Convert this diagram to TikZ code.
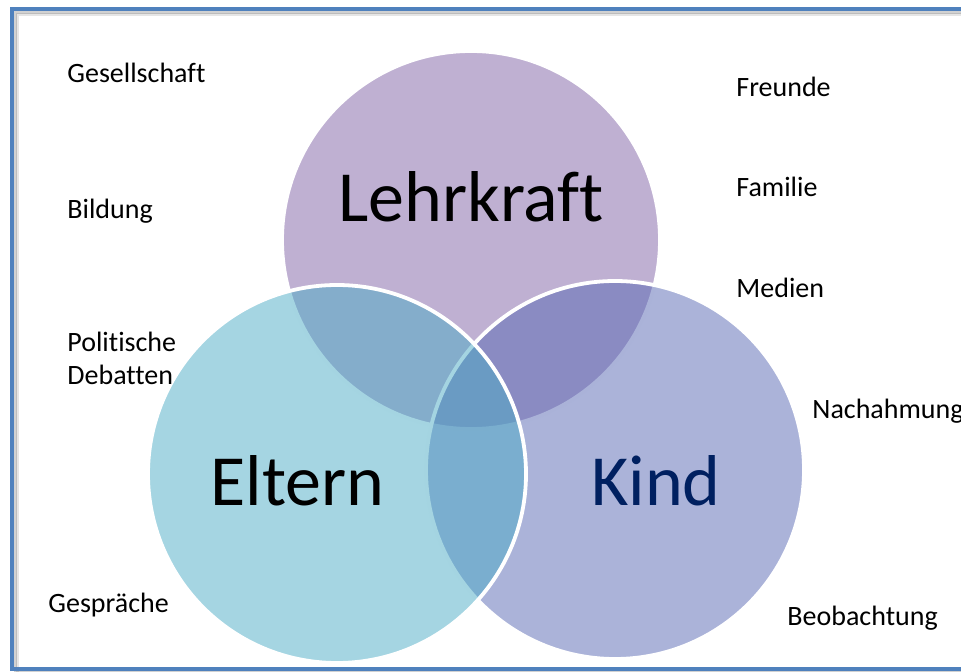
\documentclass[tikz,border=0pt]{standalone}
\usepackage{fontspec}
\setmainfont{Carlito}[Ligatures={NoCommon}]
\usepackage{tikz}
\usetikzlibrary{positioning}
\definecolor{VennLila}{HTML}{7F61A5}
\definecolor{VennBlau}{HTML}{5767B3}
\definecolor{VennTuerkis}{HTML}{4BABC5}
\definecolor{VennNavy}{HTML}{002060}
\definecolor{FrameBlue}{HTML}{4F81BD}

\begin{document}
\begin{tikzpicture}[x=0.5pt, y=-0.5pt,
  venn/.style={circle, minimum size=189pt, inner sep=0pt, draw=white, line width=1.9pt, fill opacity=0.5},
  vennlabel/.style={font=\fontsize{36}{43}\selectfont, anchor=base, inner sep=0pt},
  sidelabel/.style={font=\fontsize{14}{17}\selectfont, anchor=base west, inner sep=0pt},
  frameshadow/.style={black, line width=1.5pt}]
\useasboundingbox (0,0) rectangle (961,672);
\draw[frameshadow, opacity=0.10] (17,14.5) rectangle (985,674);
\draw[frameshadow, opacity=0.18] (15,12.5) rectangle (983,672);
\draw[FrameBlue, line width=2pt] (12,9.5) rectangle (980,669);
\node[venn, fill=VennLila] (lehrkraft) at (471,240) {};
\node[venn, fill=VennBlau] (kind) at (615,470) {};
\node[venn, fill=VennTuerkis] (eltern) at (337,474) {};
\node[vennlabel] (lehrkraftText) at (471,222) {Lehrkraft};
\node[vennlabel] (elternText) at (297.5,505) {Eltern};
\node[vennlabel, text=VennNavy] (kindText) at (656,505) {Kind};
\node[sidelabel] (gesellschaft) at (67,83) {Gesellschaft};
\node[sidelabel] (bildung) at (67,219) {Bildung};
\node[sidelabel] (politische) at (67,352) {Politische};
\node[sidelabel] (debatten) at (67,385) {Debatten};
\node[sidelabel] (gespraeche) at (48,612) {Gespräche};
\node[sidelabel] (freunde) at (736,97) {Freunde};
\node[sidelabel] (familie) at (736,197) {Familie};
\node[sidelabel] (medien) at (736,298) {Medien};
\node[sidelabel] (nachahmung) at (812,419) {Nachahmung};
\node[sidelabel] (beobachtung) at (787,625) {Beobachtung};
\end{tikzpicture}
\end{document}
